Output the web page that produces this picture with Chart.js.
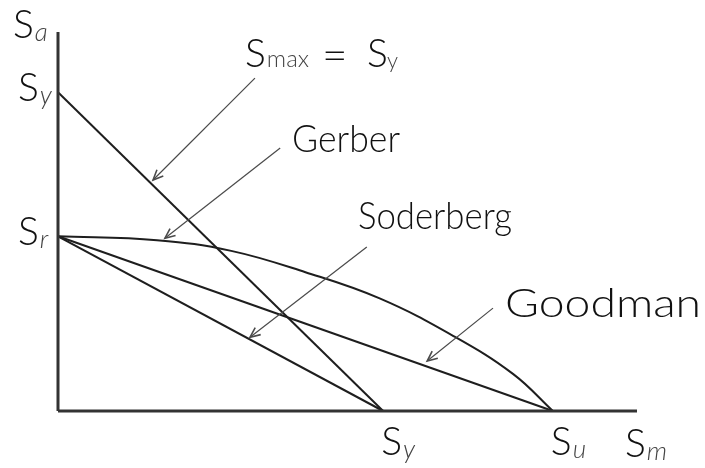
<!DOCTYPE html>
<html lang="en">
<head>
    <meta charset="UTF-8">
    <title>Fatigue failure criteria</title>
    <script src="https://cdn.jsdelivr.net/npm/chart.js"></script>
    <style>
        html, body {
            margin: 0;
            padding: 0;
            background: #fff;
        }
        .chart-box {
            width: 705px;
            height: 468px;
        }
    </style>
</head>
<body>
    <div class="chart-box">
        <canvas id="fatigueChart"></canvas>
    </div>

    <script>
        // axis extents (mean stress Sm, alternating stress Sa)
        const smMax = 117;
        const saMax = 78.1;

        // yield line Smax = Sy
        const langerSm = [0, 65.7];
        const langerSa = [65.7, 0];

        // Goodman: Sr -> Su
        const goodmanSm = [0, 100];
        const goodmanSa = [36, 0];

        // Soderberg: Sr -> Sy
        const soderbergSm = [0, 65.7];
        const soderbergSa = [36, 0];

        // Gerber curve, points
        const gerberSm = [0, 20, 35, 50, 65, 80, 92, 100];
        const gerberSa = [36, 35.2, 33, 28.6, 23.2, 15.4, 7.6, 0];

        // tick marks with their subscripts
        const xTicks = [65.7, 100];
        const xTickSubs = ['y', 'u'];
        const yTicks = [65.7, 36];
        const yTickSubs = ['y', 'r'];

        const FONT = 'Lato, "DejaVu Sans", sans-serif';

        function pts(xs, ys) {
            return xs.map((x, i) => ({ x: x, y: ys[i] }));
        }

        function curve(xs, ys, extra) {
            return Object.assign({
                data: pts(xs, ys),
                showLine: true,
                borderColor: '#1e1e1e',
                borderWidth: 2,
                pointRadius: 0,
                clip: false
            }, extra || {});
        }

        // S with a subscript, left edge at x, baseline at y
        function symbol(ctx, x, y, sub) {
            ctx.font = '300 39px ' + FONT;
            ctx.fillStyle = '#111';
            ctx.textAlign = 'left';
            ctx.textBaseline = 'alphabetic';
            ctx.fillText('S', x, y);
            const w = ctx.measureText('S').width;
            ctx.font = 'italic 300 26px ' + FONT;
            ctx.fillStyle = '#444';
            ctx.fillText(sub, x + w + 1, y + 3);
        }

        // text squeezed to a given width
        function label(ctx, text, x, y, size, width) {
            ctx.save();
            ctx.font = '300 ' + size + 'px ' + FONT;
            ctx.fillStyle = '#111';
            ctx.textAlign = 'left';
            ctx.textBaseline = 'alphabetic';
            const w = ctx.measureText(text).width;
            ctx.translate(x, y);
            ctx.scale(width / w, 1);
            ctx.fillText(text, 0, 0);
            ctx.restore();
        }

        function arrow(ctx, x0, y0, x1, y1) {
            const a = Math.atan2(y1 - y0, x1 - x0);
            const len = 11, spread = 0.42;
            ctx.save();
            ctx.strokeStyle = '#4a4a4a';
            ctx.lineWidth = 1.2;
            ctx.beginPath();
            ctx.moveTo(x0, y0);
            ctx.lineTo(x1, y1);
            ctx.stroke();
            ctx.lineWidth = 1.6;
            ctx.beginPath();
            ctx.moveTo(x1 - len * Math.cos(a - spread), y1 - len * Math.sin(a - spread));
            ctx.lineTo(x1, y1);
            ctx.lineTo(x1 - len * Math.cos(a + spread), y1 - len * Math.sin(a + spread));
            ctx.stroke();
            ctx.restore();
        }

        const annotations = {
            id: 'annotations',
            afterDatasetsDraw(chart) {
                const ctx = chart.ctx;
                const xs = chart.scales.x;
                const ys = chart.scales.y;
                const px = v => xs.getPixelForValue(v);
                const py = v => ys.getPixelForValue(v);
                const area = chart.chartArea;

                ctx.save();

                // axis titles
                symbol(ctx, 13, area.top + 6, 'a');
                symbol(ctx, 625, area.bottom + 46, 'm');

                // tick labels
                xTicks.forEach((v, i) => symbol(ctx, px(v) - 2, area.bottom + 44, xTickSubs[i]));
                yTicks.forEach((v, i) => symbol(ctx, 18, py(v) + 9, yTickSubs[i]));

                // Smax = Sy
                ctx.font = '300 39px ' + FONT;
                ctx.fillStyle = '#111';
                ctx.fillText('S', 245, 67);
                let w = ctx.measureText('S').width;
                ctx.font = '300 24px ' + FONT;
                ctx.fillStyle = '#444';
                ctx.fillText('max', 245 + w + 1, 67);
                ctx.font = '300 44px ' + FONT;
                ctx.fillStyle = '#111';
                ctx.fillText('=', 322, 71);
                ctx.font = '300 39px ' + FONT;
                ctx.fillText('S', 367, 67);
                ctx.font = '300 22px ' + FONT;
                ctx.fillStyle = '#444';
                ctx.fillText('y', 387, 68);

                // curve names
                label(ctx, 'Gerber', 292, 152, 37, 108);
                label(ctx, 'Soderberg', 358, 229, 37, 154);
                label(ctx, 'Goodman', 505, 317, 40, 196);

                // leader arrows (tail -> tip, in Sm/Sa units)
                arrow(ctx, px(39.8), py(68.6), px(19.2), py(47.6));
                arrow(ctx, px(44.9), py(54.2), px(21.6), py(35.6));
                arrow(ctx, px(62.4), py(33.8), px(38.8), py(15.2));
                arrow(ctx, px(87.9), py(21.2), px(74.6), py(10.3));

                ctx.restore();
            }
        };

        const ctx = document.getElementById('fatigueChart').getContext('2d');
        new Chart(ctx, {
            type: 'scatter',
            data: {
                datasets: [
                    curve([0, 0], [0, saMax], { borderWidth: 3, borderColor: '#333' }),
                    curve([0, smMax], [0, 0], { borderWidth: 3, borderColor: '#333' }),
                    curve(langerSm, langerSa),
                    curve(goodmanSm, goodmanSa),
                    curve(soderbergSm, soderbergSa),
                    curve(gerberSm, gerberSa, { tension: 0.4 })
                ]
            },
            options: {
                responsive: true,
                maintainAspectRatio: false,
                animation: false,
                layout: {
                    padding: { left: 58, right: 68, top: 32, bottom: 57 }
                },
                plugins: {
                    legend: { display: false },
                    tooltip: { enabled: false }
                },
                scales: {
                    x: { type: 'linear', min: 0, max: smMax, display: false },
                    y: { type: 'linear', min: 0, max: saMax, display: false }
                }
            },
            plugins: [annotations]
        });
    </script>
</body>
</html>
